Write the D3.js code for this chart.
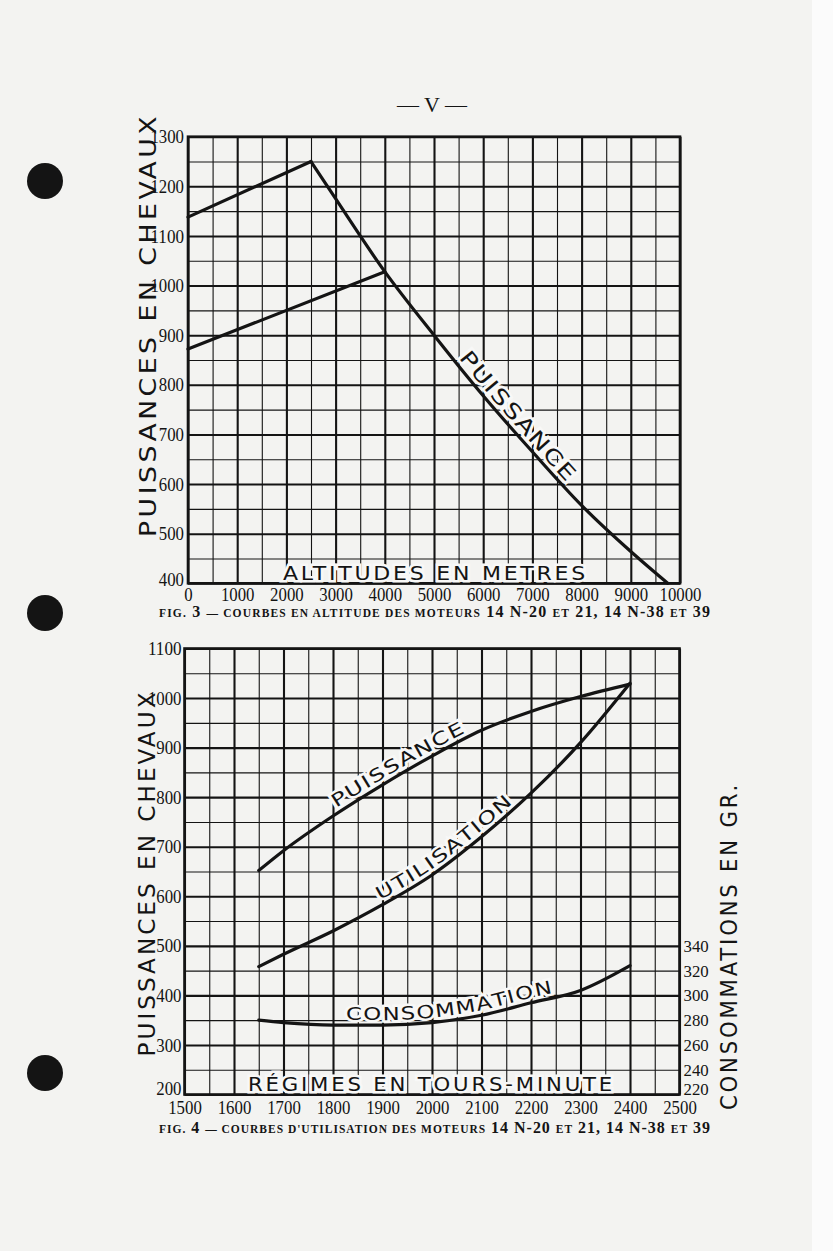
<!DOCTYPE html>
<html>
<head>
<meta charset="utf-8">
<script src="https://cdn.jsdelivr.net/npm/d3@7"></script>
<style>
  body { margin: 0; background: #fff; }
  svg { display: block; }
</style>
</head>
<body>
<svg id="page" width="833" height="1251"></svg>
<script>
// ---- fig. 3 : puissance / altitude ----
const altTicks = d3.range(0, 10001, 1000);
const hp3Ticks = d3.range(400, 1301, 100);
const climbHigh = [[0, 1138], [2500, 1250]];
const climbLow = [[0, 872], [4000, 1028]];
const fallAlt = [2500, 3000, 4000, 5000, 6000, 7000, 8000, 9000, 9750];
const fallHp = [1250, 1175, 1028, 900, 778, 665, 557, 464, 400];

// ---- fig. 4 : regimes ----
const rpm = [1650, 1700, 1800, 1900, 2000, 2100, 2200, 2300, 2400];
const puissance = [652, 692, 762, 825, 883, 935, 973, 1003, 1028];
const utilisation = [458, 483, 530, 583, 643, 720, 808, 910, 1030];
const consommation = [280, 278, 276, 276, 278, 284, 294, 304, 324];
const rpmTicks = d3.range(1500, 2501, 100);
const hp4Ticks = d3.range(200, 1101, 100);
const grTicks = [220, 240, 260, 280, 300, 320, 340];

const ink = "#141414";
const paper = "#f3f3f1";
const halo = "#f8f8f7";
const sans = "DejaVu Sans, sans-serif";
const serif = "Liberation Serif, serif";
const plain = d3.format("d");

const svg = d3.select("#page");
svg.append("rect").attr("width", 833).attr("height", 1251).attr("fill", paper);
svg.append("rect").attr("x", 812).attr("width", 21).attr("height", 1251).attr("fill", "#fbfbfb");

// binder holes
[181, 613, 1073].forEach(cy => {
  svg.append("circle").attr("cx", 45).attr("cy", cy).attr("r", 18).attr("fill", ink);
});

svg.append("text").attr("x", 432).attr("y", 112).attr("text-anchor", "middle")
  .attr("font-family", serif).attr("font-size", 22).attr("fill", ink)
  .text("— V —");

const x1 = d3.scaleLinear([0, 10000], [188, 680]);
const y1 = d3.scaleLinear([400, 1300], [583.3, 136.7]);
const x2 = d3.scaleLinear([1500, 2500], [184.5, 679.5]);
const y2 = d3.scaleLinear([200, 1100], [1094.5, 648.5]);
const yg = d3.scaleLinear([220, 580], y2.range());

function drawGrid(g, x, y, xStep, yStep, xMajor, yMajor) {
  const [xl, xr] = x.range();
  const [yb, yt] = y.range();
  const xs = d3.range(x.domain()[0], x.domain()[1] + 1, xStep);
  const ys = d3.range(y.domain()[0], y.domain()[1] + 1, yStep);

  g.append("g").attr("transform", `translate(0,${yb})`)
    .call(d3.axisBottom(x).tickValues(xs).tickSize(-(yb - yt)).tickFormat(""))
    .call(s => s.select(".domain").remove())
    .selectAll("line").attr("stroke", ink)
    .attr("stroke-width", d => d % xMajor === 0 ? 2.1 : 1.1);

  g.append("g").attr("transform", `translate(${xl},0)`)
    .call(d3.axisLeft(y).tickValues(ys).tickSize(-(xr - xl)).tickFormat(""))
    .call(s => s.select(".domain").remove())
    .selectAll("line").attr("stroke", ink)
    .attr("stroke-width", d => d % yMajor === 0 ? 2.1 : 1.1);

  g.append("rect").attr("x", xl).attr("y", yt)
    .attr("width", xr - xl).attr("height", yb - yt)
    .attr("fill", "none").attr("stroke", ink).attr("stroke-width", 2.6);
}

function tickText(sel, size = 19) {
  sel.select(".domain").remove();
  sel.attr("font-family", serif).attr("font-size", size);
  sel.selectAll("text").attr("fill", ink)
    .attr("textLength", d => String(d).length * 8.4)
    .attr("lengthAdjust", "spacingAndGlyphs");
}

function lengthAtX(node, xt) {
  let lo = 0, hi = node.getTotalLength();
  for (let i = 0; i < 40; i++) {
    const mid = (lo + hi) / 2;
    if (node.getPointAtLength(mid).x < xt) lo = mid; else hi = mid;
  }
  return lo;
}

// letters set one by one along the curve, slightly widened like the original lettering
function curveLabel(g, pathNode, label, xa, xb, size, gap) {
  const la = lengthAtX(pathNode, xa), lb = lengthAtX(pathNode, xb);
  const probe = g.append("text").attr("font-family", sans).attr("font-size", size);
  const widths = label.split("").map(c => probe.text(c).node().getComputedTextLength());
  probe.remove();
  const spacing = 1.5;
  const sx = (lb - la - spacing * (label.length - 1)) / d3.sum(widths);
  let s = la;
  label.split("").forEach((c, i) => {
    const w = widths[i] * sx;
    const mid = s + w / 2;
    const p = pathNode.getPointAtLength(mid);
    const p0 = pathNode.getPointAtLength(Math.max(0, mid - 2));
    const p1 = pathNode.getPointAtLength(mid + 2);
    const ang = Math.atan2(p1.y - p0.y, p1.x - p0.x) * 180 / Math.PI;
    g.append("text")
      .attr("transform", `translate(${p.x},${p.y}) rotate(${ang}) translate(0,${-gap}) scale(${sx},1)`)
      .attr("text-anchor", "middle").attr("font-family", sans).attr("font-size", size)
      .attr("fill", ink).attr("stroke", halo).attr("stroke-width", 5)
      .attr("paint-order", "stroke").text(c);
    s += w + spacing;
  });
}

function sideTitle(x, yc, len, label, size) {
  svg.append("text").attr("transform", `translate(${x},${yc}) rotate(-90)`)
    .attr("text-anchor", "middle").attr("font-family", sans).attr("font-size", size)
    .attr("letter-spacing", 3).attr("fill", ink)
    .attr("textLength", len).attr("lengthAdjust", "spacingAndGlyphs")
    .text(label);
}

function plotTitle(x, y, len, label, size) {
  svg.append("text").attr("x", x).attr("y", y)
    .attr("font-family", sans).attr("font-size", size).attr("fill", ink)
    .attr("letter-spacing", 2.5)
    .attr("stroke", halo).attr("stroke-width", 5).attr("paint-order", "stroke")
    .attr("textLength", len).attr("lengthAdjust", "spacingAndGlyphs")
    .text(label);
}

function caption(y, parts) {
  const t = svg.append("text").attr("x", 159).attr("y", y)
    .attr("font-family", serif).attr("fill", ink)
    .attr("textLength", 551).attr("lengthAdjust", "spacing");
  parts.forEach(([s, big]) => {
    t.append("tspan").attr("font-size", big ? 16 : 11.5)
      .attr("font-weight", "bold").text(s);
  });
}

// ================= FIG. 3 =================
const g3 = svg.append("g");
const grid3 = g3.append("g");
const lab3 = g3.append("g");
const cur3 = g3.append("g");
drawGrid(grid3, x1, y1, 500, 50, 1000, 100);

const line3 = d3.line().x(d => x1(d[0])).y(d => y1(d[1]));
[climbHigh, climbLow].forEach(pts => {
  cur3.append("path").attr("d", line3(pts)).attr("fill", "none")
    .attr("stroke", ink).attr("stroke-width", 3.2).attr("stroke-linecap", "round");
});
const fallPath = cur3.append("path")
  .attr("d", line3.curve(d3.curveMonotoneX)(fallAlt.map((a, i) => [a, fallHp[i]])))
  .attr("fill", "none").attr("stroke", ink).attr("stroke-width", 3.2)
  .attr("stroke-linecap", "round");
curveLabel(lab3, fallPath.node(), "PUISSANCE", x1(5420), x1(7620), 21, 5);

g3.append("g").attr("transform", `translate(${x1(0)},0)`)
  .call(d3.axisLeft(y1).tickValues(hp3Ticks).tickFormat(plain).tickSize(0).tickPadding(4))
  .call(tickText)
  .selectAll(".tick text").attr("dy", d => d === 400 ? "0.1em" : "0.32em");
g3.append("g").attr("transform", `translate(0,${y1(400)})`)
  .call(d3.axisBottom(x1).tickValues(altTicks).tickFormat(plain).tickSize(0).tickPadding(4))
  .call(tickText);

plotTitle(283, 580, 305, "ALTITUDES EN METRES", 20);
sideTitle(156, 325, 424, "PUISSANCES EN CHEVAUX", 23);
caption(617, [["FIG.", false], [" 3 ", true], ["— COURBES EN ALTITUDE DES MOTEURS", false],
  [" 14 N-20 ", true], ["ET", false], [" 21, 14 N-38 ", true], ["ET", false], [" 39", true]]);

// ================= FIG. 4 =================
const g4 = svg.append("g");
const grid4 = g4.append("g");
const lab4 = g4.append("g");
const cur4 = g4.append("g");
drawGrid(grid4, x2, y2, 50, 50, 100, 100);

const curveLine = (scaleY) => d3.line().curve(d3.curveMonotoneX)
  .x((d, i) => x2(rpm[i])).y(d => scaleY(d));
const series = [
  { values: puissance, y: y2, label: "PUISSANCE", a: 1812, b: 2072 },
  { values: utilisation, y: y2, label: "UTILISATION", a: 1900, b: 2170 },
  { values: consommation, y: yg, label: "CONSOMMATION", a: 1826, b: 2246 }
];
series.forEach(s => {
  const p = cur4.append("path").attr("d", curveLine(s.y)(s.values))
    .attr("fill", "none").attr("stroke", ink).attr("stroke-width", 3.2)
    .attr("stroke-linecap", "round");
  curveLabel(lab4, p.node(), s.label, x2(s.a), x2(s.b), 18, 5);
});

g4.append("g").attr("transform", `translate(${x2(1500)},0)`)
  .call(d3.axisLeft(y2).tickValues(hp4Ticks).tickFormat(plain).tickSize(0).tickPadding(3))
  .call(tickText)
  .selectAll(".tick text").attr("dy", d => d === 200 ? "0em" : "0.32em");
g4.append("g").attr("transform", `translate(0,${y2(200)})`)
  .call(d3.axisBottom(x2).tickValues(rpmTicks).tickFormat(plain).tickSize(0).tickPadding(6.5))
  .call(tickText);
g4.append("g").attr("transform", `translate(${x2(2500)},0)`)
  .call(d3.axisRight(yg).tickValues(grTicks).tickFormat(plain).tickSize(0).tickPadding(4))
  .call(sel => tickText(sel, 17))
  .selectAll(".tick text").attr("dy", d => d === 220 ? "-0.03em" : "0.32em");

plotTitle(248, 1091, 367, "RÉGIMES EN TOURS-MINUTE", 19);
sideTitle(155, 873, 367, "PUISSANCES EN CHEVAUX", 23);
sideTitle(737, 946, 328, "CONSOMMATIONS EN GR.", 23);
caption(1133, [["FIG.", false], [" 4 ", true], ["— COURBES D'UTILISATION DES MOTEURS", false],
  [" 14 N-20 ", true], ["ET", false], [" 21, 14 N-38 ", true], ["ET", false], [" 39", true]]);
</script>
</body>
</html>
